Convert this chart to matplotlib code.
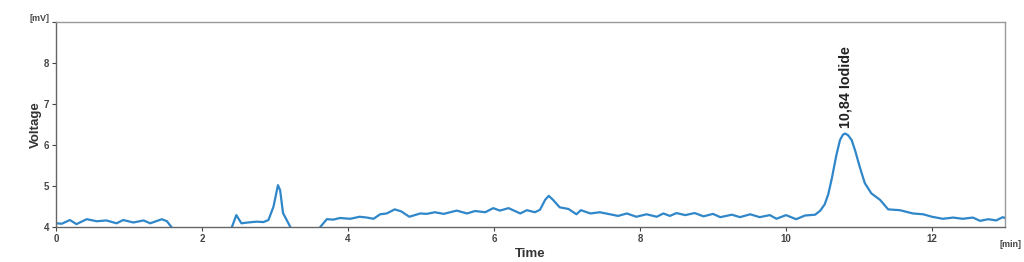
import matplotlib
matplotlib.use("Agg")
import matplotlib.pyplot as plt

plt.rcParams['font.family'] = ['Liberation Sans', 'DejaVu Sans']

# chromatogram trace (time in min, voltage in mV)
time_min = [0.00, 0.08, 0.19, 0.28, 0.42, 0.56, 0.69, 0.83, 0.92, 1.06, 1.20, 1.29, 1.45, 1.52,
            1.58, 1.65, 1.80, 2.00, 2.20, 2.35, 2.41, 2.47, 2.54, 2.63, 2.75, 2.84, 2.91, 2.98,
            3.04, 3.07, 3.11, 3.16, 3.21, 3.30, 3.45, 3.58, 3.62, 3.71, 3.80, 3.89, 4.03, 4.16,
            4.26, 4.35, 4.44, 4.53, 4.64, 4.73, 4.84, 4.99, 5.08, 5.19, 5.31, 5.49, 5.63, 5.74,
            5.88, 5.99, 6.08, 6.20, 6.36, 6.45, 6.56, 6.63, 6.70, 6.75, 6.81, 6.90, 7.02, 7.13,
            7.19, 7.32, 7.45, 7.59, 7.70, 7.82, 7.95, 8.09, 8.23, 8.32, 8.41, 8.50, 8.62, 8.75,
            8.87, 9.00, 9.10, 9.26, 9.37, 9.51, 9.64, 9.78, 9.87, 10.00, 10.14, 10.26, 10.40,
            10.47, 10.53, 10.58, 10.63, 10.69, 10.74, 10.78, 10.81, 10.85, 10.90, 10.95, 11.01,
            11.08, 11.17, 11.29, 11.40, 11.56, 11.74, 11.88, 12.00, 12.15, 12.29, 12.42, 12.56,
            12.66, 12.77, 12.88, 12.97, 13.00]
voltage_mv = [4.09, 4.08, 4.17, 4.07, 4.19, 4.14, 4.16, 4.09, 4.17, 4.11, 4.16, 4.09, 4.19, 4.14,
              4.00, 3.80, 3.60, 3.55, 3.60, 3.85, 4.00, 4.29, 4.09, 4.11, 4.13, 4.12, 4.17, 4.50,
              5.02, 4.90, 4.34, 4.17, 4.00, 3.75, 3.60, 3.80, 4.00, 4.19, 4.18, 4.22, 4.20, 4.25,
              4.23, 4.20, 4.31, 4.33, 4.43, 4.38, 4.25, 4.33, 4.32, 4.36, 4.32, 4.40, 4.33, 4.39,
              4.36, 4.46, 4.40, 4.46, 4.33, 4.41, 4.36, 4.42, 4.66, 4.76, 4.66, 4.48, 4.44, 4.31,
              4.41, 4.33, 4.36, 4.31, 4.27, 4.33, 4.25, 4.31, 4.25, 4.33, 4.27, 4.34, 4.29, 4.34,
              4.26, 4.32, 4.24, 4.30, 4.24, 4.31, 4.24, 4.29, 4.20, 4.29, 4.19, 4.28, 4.30,
              4.40, 4.55, 4.80, 5.20, 5.75, 6.12, 6.25, 6.28, 6.24, 6.12, 5.85, 5.47,
              5.07, 4.82, 4.66, 4.43, 4.41, 4.33, 4.31, 4.25, 4.20, 4.23, 4.20, 4.23,
              4.15, 4.19, 4.16, 4.24, 4.22]

peak_time = 10.82
peak_label = "10,84 Iodide"

fig = plt.figure(figsize=(10.24, 2.62), dpi=100)
ax = fig.add_axes([0.0547, 0.1336, 0.9267, 0.7824])

ax.plot(time_min, voltage_mv, color="#2f87c9", linewidth=1.6, solid_joinstyle="round")

ax.set_xlim(0, 13)
ax.set_ylim(4, 9)
ax.set_xticks([0, 2, 4, 6, 8, 10, 12])
ax.set_yticks([4, 5, 6, 7, 8, 9])
ax.set_yticklabels(["4", "5", "6", "7", "8", ""])
ax.tick_params(labelsize=7, length=3, width=0.8, colors="#444444", pad=2)
for lbl in ax.get_xticklabels() + ax.get_yticklabels():
    lbl.set_fontweight("bold")

for side in ["left", "bottom"]:
    ax.spines[side].set_color("#666666")
    ax.spines[side].set_linewidth(1.0)
for side in ["top", "right"]:
    ax.spines[side].set_color("#999999")
    ax.spines[side].set_linewidth(1.0)

ax.set_xlabel("Time", fontsize=9.5, fontweight="bold", color="#333333", labelpad=3)
ax.set_ylabel("Voltage", fontsize=9.5, fontweight="bold", color="#333333", labelpad=1)

fig.text(0.039, 0.93, "[mV]", fontsize=6.5, fontweight="bold", color="#444444",
         ha="center", va="center")
fig.text(0.987, 0.065, "[min]", fontsize=6.5, fontweight="bold", color="#444444",
         ha="center", va="center")

ax.text(peak_time, 6.42, peak_label, rotation=90, ha="center", va="bottom",
        fontsize=10.3, fontweight="bold", color="#222222")

fig.savefig("out.png", dpi=100)
